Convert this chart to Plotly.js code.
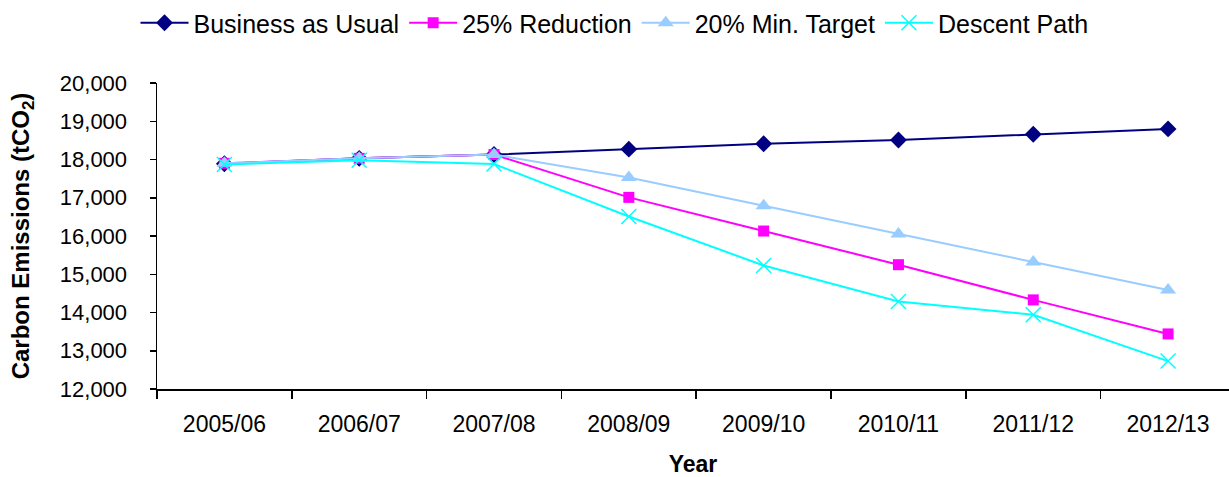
<!DOCTYPE html>
<html>
<head>
<meta charset="utf-8">
<script src="https://cdn.plot.ly/plotly-3.0.1.min.js"></script>
<style>html,body{margin:0;padding:0;background:#fff;}#chart{width:1229px;height:477px;}</style>
</head>
<body>
<div id="chart"></div>
<script>
const years = ["2005/06","2006/07","2007/08","2008/09","2009/10","2010/11","2011/12","2012/13"];
const businessAsUsual = [17890, 18030, 18130, 18270, 18410, 18510, 18660, 18800];
const reduction25 = [17900, 18030, 18130, 17010, 16130, 15250, 14330, 13440];
const minTarget20 = [17900, 18030, 18130, 17530, 16790, 16050, 15320, 14590];
const descentPath = [17870, 17980, 17880, 16510, 15230, 14290, 13940, 12730];

const font = "Liberation Sans, Arial, sans-serif";
function tr(name, y, color, symbol, size, width) {
  return {x: years, y: y, name: name, type: "scatter", mode: "lines+markers",
    line: {color: color, width: width},
    marker: {symbol: symbol, size: size, color: color, line: {color: color, width: symbol.indexOf("open") >= 0 ? 1.5 : 0}}};
}
const data = [
  tr("Business as Usual", businessAsUsual, "#000080", "diamond", 13, 2),
  tr("25% Reduction", reduction25, "#FF00FF", "square", 11, 2),
  tr("20% Min. Target", minTarget20, "#99CCFF", "triangle-up", 14, 2),
  tr("Descent Path", descentPath, "#00FFFF", "x-thin-open", 15, 2)
];
const layout = {
  width: 1229, height: 477,
  margin: {l: 157, r: 0, t: 83, b: 88},
  paper_bgcolor: "#fff", plot_bgcolor: "#fff",
  font: {family: font, size: 22, color: "#000"},
  showlegend: true,
  legend: {orientation: "h", x: 0.5, xref: "container", xanchor: "center", y: 1, yref: "container", yanchor: "top",
    font: {family: font, size: 25, color: "#000"}, itemwidth: 48, traceorder: "normal", tracegroupgap: 0},
  xaxis: {type: "category", range: [-0.5, 7.452], showline: true, linecolor: "#000", linewidth: 1.5,
    ticks: "outside", tickson: "boundaries", ticklen: 8, tickcolor: "#000", tickwidth: 1.5,
    showgrid: false, zeroline: false, ticklabelstandoff: 14,
    tickfont: {family: font, size: 23, color: "#000"},
    title: {text: "Year", font: {family: font, size: 23, color: "#000", weight: "bold"}, standoff: 22}},
  yaxis: {range: [12000, 20000], dtick: 1000, tickformat: ",d", showline: true, linecolor: "#000", linewidth: 1.5,
    ticks: "outside", ticklen: 6, tickcolor: "#000", tickwidth: 1.5, showgrid: false, zeroline: false,
    ticklabelstandoff: 18,
    tickfont: {family: font, size: 22, color: "#000"},
    title: {text: "Carbon Emissions (tCO<sub>2</sub>)", font: {family: font, size: 24, color: "#000", weight: "bold"}, standoff: 23}}
};
Plotly.newPlot("chart", data, layout, {displayModeBar: false, staticPlot: true});
</script>
</body>
</html>
